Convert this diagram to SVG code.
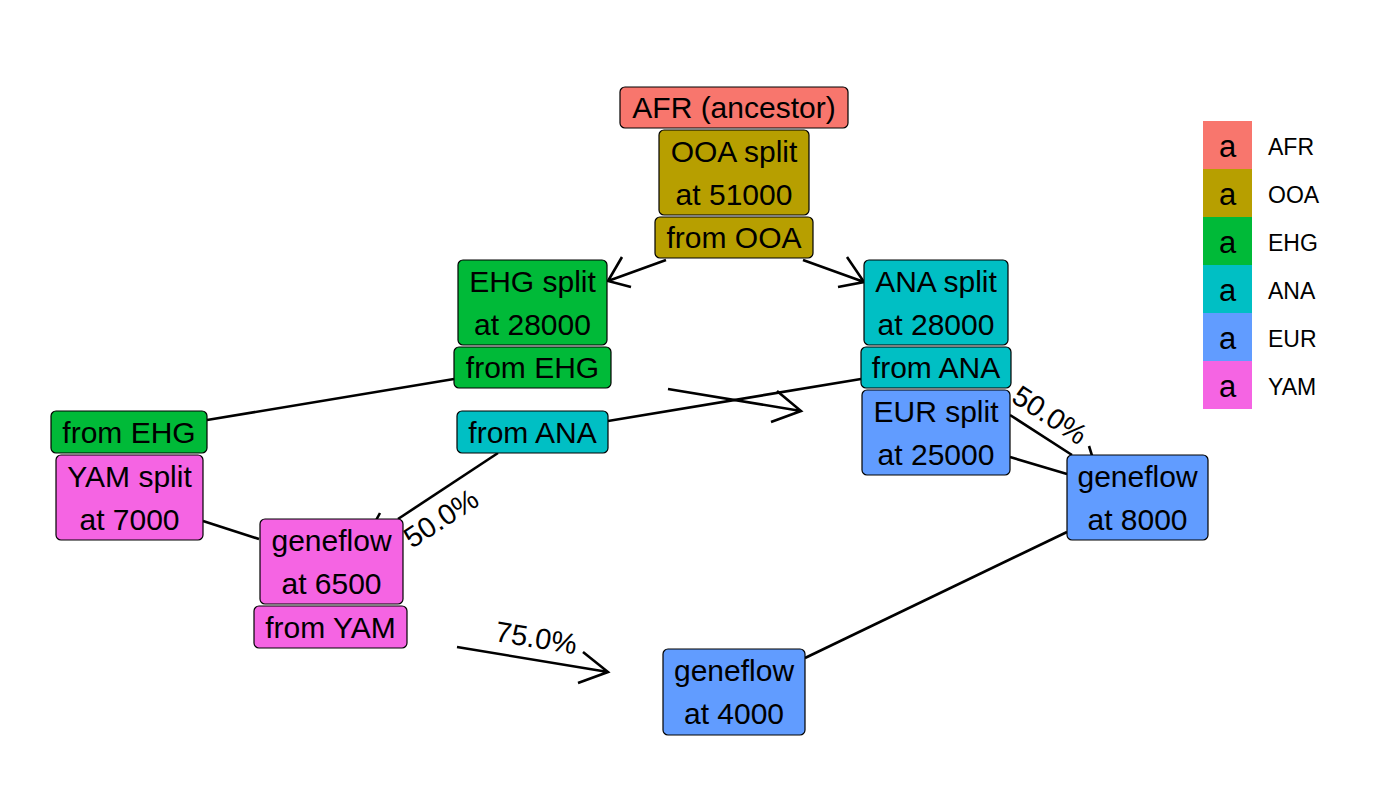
<svg xmlns="http://www.w3.org/2000/svg" width="1400" height="800" viewBox="0 0 1400 800">
<style>
.n rect{stroke:#000;stroke-width:1.2}
.n text,.lbl{font-family:"Liberation Sans",Arial,sans-serif;font-size:30px;fill:#000;text-anchor:middle}
.lbl{text-anchor:start;font-size:29px}
.e{stroke:#000;stroke-width:2.6;fill:none;stroke-linecap:butt}
.afr{fill:#F8766D}.ooa{fill:#B79F00}.ehg{fill:#00BA38}.ana{fill:#00BFC4}.eur{fill:#619CFF}.yam{fill:#F564E3}
.lg{font-family:"Liberation Sans",Arial,sans-serif;font-size:23px;fill:#000}
.lga{font-family:"Liberation Sans",Arial,sans-serif;font-size:31px;fill:#000;text-anchor:middle}
</style>
<rect width="1400" height="800" fill="#fff"/>
<g id="edges">
<path class="e" d="M666,260 L608,281 M622,257 L608,281 L631,287"/>
<path class="e" d="M803,260 L864,282 M847,257 L864,282 L838,287"/>
<path class="e" d="M454,379 L207,420"/>
<path class="e" d="M861,379 L608,421"/>
<path class="e" d="M668,389 L801,411 M777,391 L801,411 L771,422"/>
<path class="e" d="M1010,415 L1072,455 M1010,457 L1067,474"/>
<path class="e" d="M1089,446 L1094,462"/>
<path class="e" d="M1067,532 L805,658"/>
<path class="e" d="M203,521 L259,539"/>
<path class="e" d="M498,453 L398,519"/>
<path class="e" d="M380,513 L374,524"/>
<path class="e" d="M457,647 L608,672 M583,652 L608,672 L578,683"/>
<text class="lbl" transform="translate(1010,401) rotate(33)">50.0%</text>
<text class="lbl" transform="translate(412,549) rotate(-33)">50.0%</text>
<text class="lbl" transform="translate(494,641) rotate(9.4)">75.0%</text>
</g>
<g id="afr" class="n"><rect class="afr" x="620" y="87" width="228" height="41" rx="5"/><text x="734" y="118">AFR (ancestor)</text></g>
<g id="ooa_split" class="n"><rect class="ooa" x="659" y="130" width="150" height="85" rx="5"/><text x="734" y="162">OOA split</text><text x="734" y="205">at 51000</text></g>
<g id="from_ooa" class="n"><rect class="ooa" x="655" y="217" width="158" height="41" rx="5"/><text x="734" y="248">from OOA</text></g>
<g id="ehg_split" class="n"><rect class="ehg" x="458" y="260" width="149" height="85" rx="5"/><text x="532.5" y="292">EHG split</text><text x="532.5" y="335">at 28000</text></g>
<g id="from_ehg_1" class="n"><rect class="ehg" x="454" y="347" width="157" height="41" rx="5"/><text x="532.5" y="378">from EHG</text></g>
<g id="ana_split" class="n"><rect class="ana" x="864" y="260" width="144" height="85" rx="5"/><text x="936" y="292">ANA split</text><text x="936" y="335">at 28000</text></g>
<g id="from_ana_1" class="n"><rect class="ana" x="861" y="347" width="150" height="41" rx="5"/><text x="936" y="378">from ANA</text></g>
<g id="eur_split" class="n"><rect class="eur" x="862" y="390" width="148" height="85" rx="5"/><text x="936" y="422">EUR split</text><text x="936" y="465">at 25000</text></g>
<g id="gf_8000" class="n"><rect class="eur" x="1067" y="455" width="141" height="85" rx="5"/><text x="1137.5" y="487">geneflow</text><text x="1137.5" y="530">at 8000</text></g>
<g id="from_ehg_2" class="n"><rect class="ehg" x="51" y="411" width="156" height="42" rx="5"/><text x="129" y="443">from EHG</text></g>
<g id="yam_split" class="n"><rect class="yam" x="56" y="455" width="147" height="85" rx="5"/><text x="129.5" y="487">YAM split</text><text x="129.5" y="530">at 7000</text></g>
<g id="from_ana_2" class="n"><rect class="ana" x="457" y="411" width="151" height="42" rx="5"/><text x="532.5" y="443">from ANA</text></g>
<g id="gf_6500" class="n"><rect class="yam" x="260" y="519" width="143" height="85" rx="5"/><text x="331.5" y="551">geneflow</text><text x="331.5" y="594">at 6500</text></g>
<g id="from_yam" class="n"><rect class="yam" x="254" y="606" width="153" height="42" rx="5"/><text x="330.5" y="638">from YAM</text></g>
<g id="gf_4000" class="n"><rect class="eur" x="663" y="649" width="142" height="86" rx="5"/><text x="734" y="681">geneflow</text><text x="734" y="724">at 4000</text></g>
<g id="legend">
<rect class="afr" x="1203" y="121" width="49" height="48"/>
<rect class="ooa" x="1203" y="169" width="49" height="48"/>
<rect class="ehg" x="1203" y="217" width="49" height="48"/>
<rect class="ana" x="1203" y="265" width="49" height="48"/>
<rect class="eur" x="1203" y="313" width="49" height="48"/>
<rect class="yam" x="1203" y="361" width="49" height="48"/>
<text class="lga" x="1227.5" y="157">a</text>
<text class="lga" x="1227.5" y="205">a</text>
<text class="lga" x="1227.5" y="253">a</text>
<text class="lga" x="1227.5" y="301">a</text>
<text class="lga" x="1227.5" y="349">a</text>
<text class="lga" x="1227.5" y="397">a</text>
<text class="lg" x="1268" y="155">AFR</text>
<text class="lg" x="1268" y="203">OOA</text>
<text class="lg" x="1268" y="251">EHG</text>
<text class="lg" x="1268" y="299">ANA</text>
<text class="lg" x="1268" y="347">EUR</text>
<text class="lg" x="1268" y="395">YAM</text>
</g>
</svg>
